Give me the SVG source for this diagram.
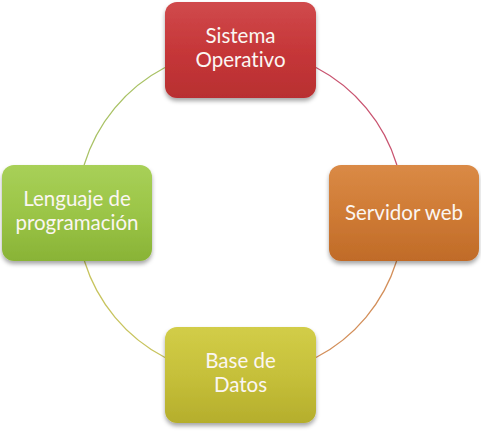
<svg xmlns="http://www.w3.org/2000/svg" width="481" height="437" viewBox="0 0 481 437">
<style>
.lbl{font-family:Lato,"Open Sans","Liberation Sans",sans-serif;font-size:20.5px;fill:#fbf6f2;text-anchor:middle;font-variant-ligatures:none;font-feature-settings:"liga" 0,"dlig" 0}
.arc{fill:none;stroke-width:1.3}
</style>
<defs>
<filter id="sh" x="-10%" y="-10%" width="120%" height="130%">
<feDropShadow dx="0" dy="3" stdDeviation="2" flood-color="#000" flood-opacity="0.35"/>
</filter>
<linearGradient id="gR" x1="0" y1="0" x2="0" y2="1"><stop offset="0" stop-color="#d04a4c"/><stop offset="0.5" stop-color="#c63739"/><stop offset="1" stop-color="#b82f31"/></linearGradient>
<linearGradient id="gO" x1="0" y1="0" x2="0" y2="1"><stop offset="0" stop-color="#da8a46"/><stop offset="0.5" stop-color="#cf7b35"/><stop offset="1" stop-color="#c06b28"/></linearGradient>
<linearGradient id="gY" x1="0" y1="0" x2="0" y2="1"><stop offset="0" stop-color="#d2cd48"/><stop offset="0.5" stop-color="#c6c03a"/><stop offset="1" stop-color="#b5ae2c"/></linearGradient>
<linearGradient id="gG" x1="0" y1="0" x2="0" y2="1"><stop offset="0" stop-color="#a8d058"/><stop offset="0.5" stop-color="#9bc547"/><stop offset="1" stop-color="#89b336"/></linearGradient>
</defs>
<rect width="481" height="437" fill="#ffffff"/>
<g id="connectors">
<path class="arc" stroke="#a9c265" d="M 84.1 165 A 163.5 163.5 0 0 1 165 67.5"/>
<path class="arc" stroke="#c95470" d="M 316 67.5 A 163.5 163.5 0 0 1 396.9 165"/>
<path class="arc" stroke="#d38f5a" d="M 396.6 261 A 163.5 163.5 0 0 1 316 357.5"/>
<path class="arc" stroke="#c8c45e" d="M 165 357.5 A 163.5 163.5 0 0 1 84.4 261"/>
</g>
<g id="node-sistema">
<rect x="165" y="2" width="151" height="96" rx="12" fill="url(#gR)" filter="url(#sh)"/>
<text class="lbl" x="240.5" y="43">Sistema</text>
<text class="lbl" x="240.5" y="67">Operativo</text>
</g>
<g id="node-servidor">
<rect x="329" y="165" width="150" height="96" rx="12" fill="url(#gO)" filter="url(#sh)"/>
<text class="lbl" x="404" y="220">Servidor web</text>
</g>
<g id="node-base">
<rect x="165" y="327" width="151" height="96" rx="12" fill="url(#gY)" filter="url(#sh)"/>
<text class="lbl" x="240.5" y="368">Base de</text>
<text class="lbl" x="240.5" y="392">Datos</text>
</g>
<g id="node-lenguaje">
<rect x="2" y="165" width="150" height="96" rx="12" fill="url(#gG)" filter="url(#sh)"/>
<text class="lbl" x="77" y="206">Lenguaje de</text>
<text class="lbl" x="77" y="230">programación</text>
</g>
</svg>
